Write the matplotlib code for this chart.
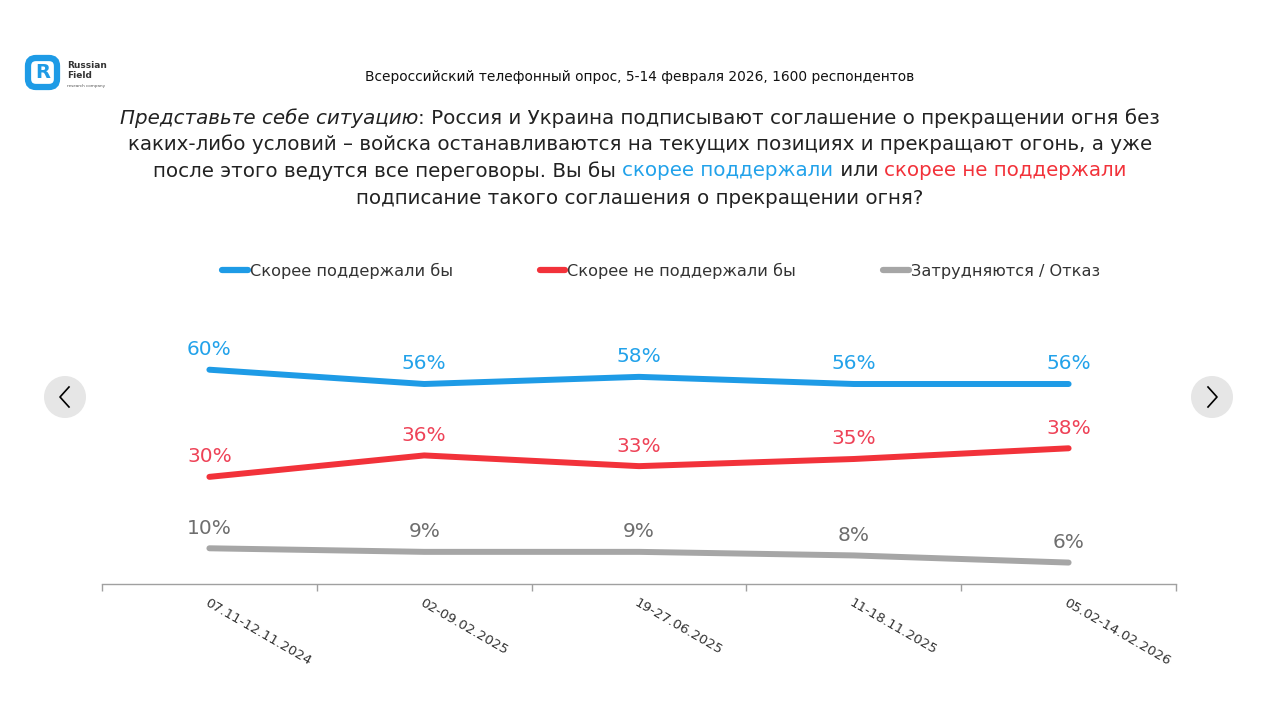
import matplotlib
matplotlib.use("Agg")
import matplotlib.pyplot as plt
from matplotlib.patches import Circle, FancyBboxPatch
from matplotlib.lines import Line2D

# данные опроса
periods = ["07.11-12.11.2024", "02-09.02.2025", "19-27.06.2025", "11-18.11.2025", "05.02-14.02.2026"]
support = [60, 56, 58, 56, 56]
oppose = [30, 36, 33, 35, 38]
unsure = [10, 9, 9, 8, 6]
series_names = ["Скорее поддержали бы", "Скорее не поддержали бы", "Затрудняются / Отказ"]

BLUE = "#1e9be6"
RED = "#f2323a"
GRAY = "#a6a6a6"
LBL_BLUE = "#22a2ea"
LBL_RED = "#ee4257"
LBL_GRAY = "#6e6e6e"

W, H = 1280, 721
plt.rcParams["font.family"] = ["DejaVu Sans"]

fig = plt.figure(figsize=(W / 100, H / 100), dpi=100)
fig.patch.set_facecolor("white")

# слой для оформления в пикселях
over = fig.add_axes([0, 0, 1, 1])
over.set_xlim(0, W)
over.set_ylim(H, 0)
over.axis("off")
over.patch.set_alpha(0)

# логотип
over.add_patch(FancyBboxPatch((28, 58), 29, 29, boxstyle="round,pad=0,rounding_size=8",
                              fill=False, ec=BLUE, lw=4.5))
over.text(42.5, 73, "R", color=BLUE, fontsize=14, fontweight="bold", ha="center", va="center")
over.text(67, 65, "Russian", fontsize=6.5, fontweight="bold", color="#333333", va="center")
over.text(67, 76, "Field", fontsize=6.5, fontweight="bold", color="#333333", va="center")
over.text(67, 86, "research company", fontsize=3, color="#555555", va="center")

# кнопки навигации
for cx, d in [(65, -1), (1212, 1)]:
    over.add_patch(Circle((cx, 397), 21, color="#e6e6e6", lw=0))
    over.plot([cx - 4 * d, cx + 5 * d, cx - 4 * d], [387, 397, 407], color="black", lw=1.2)

# заголовки
fig.text(0.5, 1 - 77 / H, "Всероссийский телефонный опрос, 5-14 февраля 2026, 1600 респондентов",
         ha="center", va="center", fontsize=9.9, color="#111111")

question = [
    (118, [("Представьте себе ситуацию", "#222222", "italic"),
           (": Россия и Украина подписывают соглашение о прекращении огня без", "#222222", "normal")]),
    (144, [("каких-либо условий – войска останавливаются на текущих позициях и прекращают огонь, а уже",
            "#222222", "normal")]),
    (171, [("после этого ведутся все переговоры. Вы бы ", "#222222", "normal"),
           ("скорее поддержали", LBL_BLUE, "normal"),
           (" или ", "#222222", "normal"),
           ("скорее не поддержали", RED, "normal")]),
    (198, [("подписание такого соглашения о прекращении огня?", "#222222", "normal")]),
]

renderer = fig.canvas.get_renderer()
for y, segs in question:
    texts = []
    for s, c, st in segs:
        texts.append(fig.text(0, 0, s, fontsize=14.3, color=c, style=st, ha="left", va="center"))
    widths = [t.get_window_extent(renderer).width for t in texts]
    x = W / 2 - sum(widths) / 2
    for t, w in zip(texts, widths):
        t.set_position((x / W, 1 - y / H))
        x += w

# график
ax = fig.add_axes([102 / W, 1 - 584 / H, (1176 - 102) / W, 250 / H])
ax.patch.set_alpha(0)
x = list(range(len(periods)))
lines = [
    (support, BLUE, LBL_BLUE),
    (oppose, RED, LBL_RED),
    (unsure, GRAY, LBL_GRAY),
]
for vals, col, lcol in lines:
    ax.plot(x, vals, color=col, lw=4.3, solid_capstyle="round", solid_joinstyle="round")
    for xi, v in zip(x, vals):
        ax.annotate(f"{v}%", (xi, v), xytext=(0, 14.5), textcoords="offset points",
                    ha="center", va="center", fontsize=14.5, color=lcol)

ax.set_xlim(-0.5, len(periods) - 0.5)
ax.set_ylim(0, 70)
ax.set_yticks([])
for s in ["top", "left", "right"]:
    ax.spines[s].set_visible(False)
ax.spines["bottom"].set_color("#a0a0a0")
ax.spines["bottom"].set_linewidth(1)

ax.set_xticks(x)
ax.set_xticklabels(periods, rotation=-30, ha="left", rotation_mode="anchor",
                   fontsize=9.7, color="#333333")
ax.tick_params(axis="x", which="major", length=0, pad=9)
ax.set_xticks([i - 0.5 for i in range(len(periods) + 1)], minor=True)
ax.tick_params(axis="x", which="minor", length=5, color="#a0a0a0", width=1)

# легенда
handles = [Line2D([0], [0], color=c, lw=4.5, solid_capstyle="round") for _, c, _ in lines]
fig.legend(handles, series_names, loc="center left", bbox_to_anchor=(222 / W, 1 - 271 / H),
           ncol=3, frameon=False, fontsize=11.6, handlelength=1.6, handletextpad=0.12,
           columnspacing=5.4, borderpad=0, borderaxespad=0, labelcolor="#333333")

fig.savefig("out.png", dpi=100, facecolor="white")
